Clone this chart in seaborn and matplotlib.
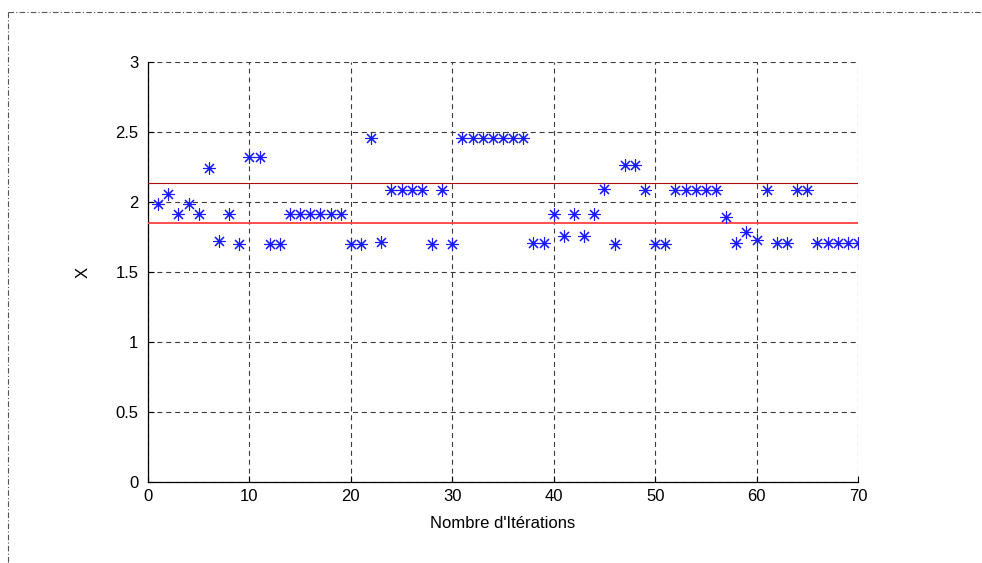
import matplotlib
matplotlib.use("Agg")
import matplotlib.pyplot as plt
from matplotlib.lines import Line2D
import numpy as np
import pandas as pd
import seaborn as sns

# Iteration index and the value of X obtained at each iteration
iterations = list(range(1, 71))
x_values = [
    1.984, 2.055, 1.912, 1.984, 1.912, 2.240, 1.721, 1.912, 1.702, 2.319,
    2.319, 1.702, 1.702, 1.912, 1.912, 1.912, 1.912, 1.912, 1.912, 1.702,
    1.702, 2.459, 1.712, 2.086, 2.086, 2.086, 2.086, 1.702, 2.086, 1.702,
    2.459, 2.459, 2.459, 2.459, 2.459, 2.459, 2.459, 1.705, 1.705, 1.912,
    1.757, 1.912, 1.757, 1.912, 2.090, 1.702, 2.264, 2.264, 2.086, 1.702,
    1.702, 2.086, 2.086, 2.086, 2.086, 2.086, 1.895, 1.705, 1.788, 1.729,
    2.086, 1.705, 1.705, 2.086, 2.086, 1.705, 1.705, 1.705, 1.705, 1.705,
]
upper_level = 2.133
lower_level = 1.852

x_ticks = [0, 10, 20, 30, 40, 50, 60, 70]
y_ticks = [0, 0.5, 1, 1.5, 2, 2.5, 3]
y_tick_labels = ["0", "0.5", "1", "1.5", "2", "2.5", "3"]

sns.set_theme(style="white")
plt.rcParams["font.family"] = ["Liberation Sans", "DejaVu Sans"]

df = pd.DataFrame({"iteration": iterations, "X": x_values})

fig = plt.figure(figsize=(9.82, 5.63), dpi=100)
ax = fig.add_axes([148 / 982, 81 / 563, 710 / 982, 420 / 563])

sns.scatterplot(data=df, x="iteration", y="X", ax=ax, marker=(8, 2, 0),
                s=75, color="#1a1aff", edgecolor="#1a1aff", linewidth=0.8,
                zorder=4, legend=False)

ax.axhline(upper_level, color="#aa1111", lw=0.8, zorder=3)
ax.axhline(lower_level, color="#ff4040", lw=1.3, zorder=3)

ax.set_xlim(0, 70)
ax.set_ylim(0, 3)
ax.set_xticks(x_ticks)
ax.set_yticks(y_ticks)
ax.set_yticklabels(y_tick_labels)

ax.grid(True, color="#3a3a3a", linestyle=(0, (4.5, 3.5)), linewidth=0.8)
ax.set_axisbelow(True)

for side in ("top", "right"):
    ax.spines[side].set_visible(False)
for side in ("left", "bottom"):
    ax.spines[side].set_color("black")
    ax.spines[side].set_linewidth(0.9)

ax.tick_params(axis="both", direction="in", length=4, width=0.8,
               colors="black", labelsize=12, left=True, bottom=True)
ax.tick_params(axis="x", pad=5)
ax.tick_params(axis="y", pad=7)

ax.set_xlabel("Nombre d'Itérations", fontsize=12, labelpad=9, color="black")
ax.set_ylabel("X", fontsize=12, labelpad=18, rotation=90, color="black")

# Dash-dot frame around the figure
frame_kw = dict(color="#555555", lw=0.8, linestyle=(0, (5, 2, 1, 2)),
                transform=fig.transFigure, figure=fig)
fig.lines.append(Line2D([8 / 982, 1.0], [1 - 12 / 563, 1 - 12 / 563], **frame_kw))
fig.lines.append(Line2D([8 / 982, 8 / 982], [1 - 12 / 563, 0.0], **frame_kw))

fig.savefig("out.png", dpi=100)
